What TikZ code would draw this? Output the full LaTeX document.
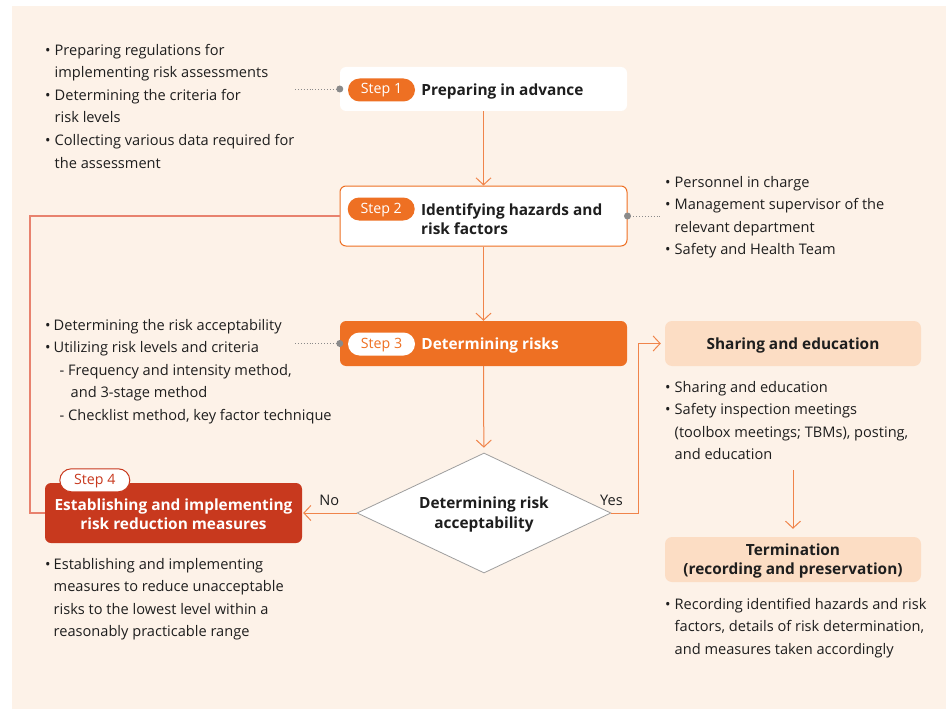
\documentclass[tikz,border=0pt]{standalone}
\usepackage{fontspec}
\setmainfont{Open Sans}
\usetikzlibrary{positioning,arrows.meta,shapes.geometric,calc}
\definecolor{bgcream}{HTML}{FDF2E8}
\definecolor{steporange}{HTML}{EE7023}
\definecolor{stepred}{HTML}{C8391E}
\definecolor{peach}{HTML}{FCDDC4}
\definecolor{flowline}{HTML}{F0844A}
\definecolor{loopline}{HTML}{E8826E}
\definecolor{leadgrey}{HTML}{8A8A8A}
\definecolor{inktext}{HTML}{1E1E1E}
\newcommand{\bodyfont}{\fontsize{14.6}{22.6}\selectfont}
\newcommand{\headfont}{\bfseries\fontsize{15.4}{19.5}\selectfont}
\tikzset{
  stepbox/.style={rounded corners=6pt, minimum width=287pt, inner sep=0pt},
  plainbox/.style={stepbox, fill=white},
  outlinebox/.style={stepbox, fill=white, draw=steporange, line width=1pt},
  hotbox/.style={stepbox, fill=steporange},
  redbox/.style={rounded corners=6pt, fill=stepred, minimum width=257pt, minimum height=60pt, inner sep=0pt},
  peachbox/.style={rounded corners=7pt, fill=peach, minimum width=256pt, minimum height=45pt,
    inner sep=0pt, align=center, font=\headfont, text=inktext},
  steppill/.style={rounded corners=11.5pt, minimum width=67pt, minimum height=23pt, inner sep=0pt,
    text height=10pt, text depth=2pt, font=\fontsize{14.2}{16}\selectfont},
  pillorange/.style={steppill, fill=steporange, text=white},
  pillwhite/.style={steppill, fill=white, text=steporange},
  pillred/.style={steppill, fill=white, draw=stepred, line width=1pt, text=stepred, minimum width=70pt},
  titletext/.style={font=\headfont, text=inktext, align=left, inner sep=0pt},
  listtext/.style={font=\bodyfont, text=inktext, inner sep=0pt, anchor=north west},
  decision/.style={diamond, aspect=2.1, draw=black!38, fill=white, line width=0.8pt, minimum width=254pt,
    minimum height=120pt, inner sep=0pt, align=center, font=\headfont, text=inktext},
  flow/.style={-{Straight Barb[length=7pt, width=15pt, line width=1pt]}, line width=1pt, draw=flowline},
  loopflow/.style={line width=1.3pt, draw=loopline},
  leader/.style={dotted, line width=0.9pt, draw=leadgrey},
  leaddot/.style={fill=leadgrey},
  flowlab/.style={font=\bodyfont, text=inktext, inner sep=2pt},
}
\newcommand{\bitem}{\textbullet &}
\begin{document}
\begin{tikzpicture}[x=1pt, y=-1pt]
\useasboundingbox (0,0) rectangle (946,709);
\fill[bgcream] (12,6) rectangle (946,709);
% main steps
\node[plainbox, minimum height=44pt] (step1) at (483.5,89) {};
\node[pillorange, anchor=west] (pill1) at ($(step1.west)+(8,1)$) {Step 1};
\node[titletext, anchor=west] (title1) at ($(pill1.east)+(6,1)$) {Preparing in advance};
\node[outlinebox, minimum height=60pt] (step2) at (483.5,216) {};
\node[pillorange, anchor=west] (pill2) at ($(step2.west)+(8,-7)$) {Step 2};
\node[titletext, anchor=west] (title2) at ($(pill2.east)+(6,10)$) {Identifying hazards and\\risk factors};
\node[hotbox, minimum height=45pt] (step3) at (483.5,343.5) {};
\node[pillwhite, anchor=west] (pill3) at ($(step3.west)+(8,0.5)$) {Step 3};
\node[titletext, text=white, anchor=west] (title3) at ($(pill3.east)+(6,1)$) {Determining risks};
% decision and step 4
\node[decision] (accept) at (484,513) {};
\node[titletext, align=center] (acceptText) at ($(accept.center)+(0,1.5)$) {Determining risk\\acceptability};
\node[redbox] (step4) at (173.5,513) {};
\node[pillred] (pill4) at ($(step4.north west)+(50,-2.5)$) {Step 4};
\node[titletext, text=white, align=center] (title4) at ($(step4.center)+(0,1)$) {Establishing and implementing\\risk reduction measures};
% right column
\node[peachbox] (share) at (793,343.5) {};
\node[titletext] (shareText) at ($(share.center)+(0,1.5)$) {Sharing and education};
\node[peachbox] (term) at (793,559.5) {};
\node[titletext, align=center] (termText) at ($(term.center)+(0,1.5)$) {Termination\\(recording and preservation)};
% notes
\node[listtext] (prepList) at (45,39) {\begin{tabular}{@{}l@{\hspace{4pt}}l@{}}
\bitem Preparing regulations for\\ & implementing risk assessments\\
\bitem Determining the criteria for\\ & risk levels\\
\bitem Collecting various data required for\\ & the assessment\end{tabular}};
\node[listtext] (staffList) at (665,171) {\begin{tabular}{@{}l@{\hspace{4pt}}l@{}}
\bitem Personnel in charge\\
\bitem Management supervisor of the\\ & relevant department\\
\bitem Safety and Health Team\end{tabular}};
\node[listtext] (riskList) at (45,314) {\begin{tabular}{@{}l@{\hspace{3pt}}l@{}}
\bitem Determining the risk acceptability\\
\bitem Utilizing risk levels and criteria\\
 & \hspace{6pt}- Frequency and intensity method,\\
 & \hspace{17pt}and 3-stage method\\
 & \hspace{6pt}- Checklist method, key factor technique\end{tabular}};
\node[listtext] (shareList) at (665,376) {\begin{tabular}{@{}l@{\hspace{4pt}}l@{}}
\bitem Sharing and education\\
\bitem Safety inspection meetings\\ & (toolbox meetings; TBMs), posting,\\ & and education\end{tabular}};
\node[listtext] (reduceList) at (45,553) {\begin{tabular}{@{}l@{\hspace{3pt}}l@{}}
\bitem Establishing and implementing\\ & measures to reduce unacceptable\\
 & risks to the lowest level within a\\ & reasonably practicable range\end{tabular}};
\node[listtext] (termList) at (665,593) {\begin{tabular}{@{}l@{\hspace{4pt}}l@{}}
\bitem Recording identified hazards and risk\\ & factors, details of risk determination,\\
 & and measures taken accordingly\end{tabular}};
% helper points
\coordinate (lead1) at (295,89);
\coordinate (lead2) at (661,216);
\coordinate (lead3) at (295,343.5);
\coordinate (loopx) at (30,0);
\coordinate (yesTurn) at (638,513);
\coordinate (shareEnd) at (793,470);
% leaders
\draw[leader] (lead1) -- (step1.west);
\fill[leaddot] (step1.west) circle (3.5pt);
\draw[leader] (step2.east) -- (lead2);
\fill[leaddot] (step2.east) circle (3.5pt);
\draw[leader] (lead3) -- (step3.west);
\fill[leaddot] (step3.west) circle (3.5pt);
% flows
\draw[flow] (step1) -- (step2);
\draw[flow] (step2) -- (step3);
\draw[flow, shorten >=5pt] (step3) -- (accept);
\draw[flow, shorten >=1pt] (accept.west) -- node[flowlab, above=5pt] {No} (step4.east);
\draw[flow, shorten >=4pt] (accept.east) -- node[flowlab, above=5pt, pos=0] {Yes} (yesTurn) |- (share.west);
\draw[flow, shorten >=8pt] (shareEnd) -- (term.north);
\draw[loopflow] (step2.west) -- (step2.west -| loopx) |- (step4.west);
\end{tikzpicture}
\end{document}
